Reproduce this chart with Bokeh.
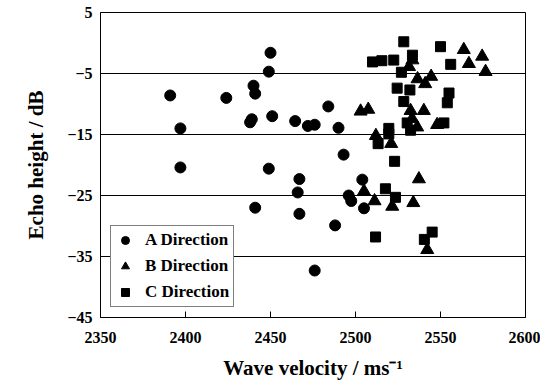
from bokeh.plotting import figure
from bokeh.models import FixedTicker, Legend, LegendItem, Range1d
from bokeh.embed import file_html
from bokeh.resources import INLINE

# Data
a_vel = [2391, 2397, 2397, 2424, 2440, 2441, 2438, 2439, 2441, 2449, 2450, 2484, 2451,
         2464.5, 2472, 2476, 2490, 2493, 2449, 2467, 2466, 2467, 2488, 2476, 2504,
         2496, 2497.5, 2505]
a_db = [-8.6, -14.0, -20.4, -9.0, -7.0, -8.3, -13.0, -12.5, -27.0, -4.7, -1.6, -10.4, -12.0,
        -12.8, -13.6, -13.4, -13.9, -18.3, -20.6, -22.3, -24.5, -28.0, -29.9, -37.3, -22.4,
        -25.0, -25.9, -27.1]

b_vel = [2503, 2507.5, 2512, 2521, 2533.5, 2531.5, 2536.5, 2544.5, 2541, 2563.7, 2574.5,
         2566.7, 2576.5, 2532.4, 2540.2, 2533.3, 2536.3, 2548, 2505, 2511.2, 2521.6, 2534,
         2537.3, 2542.2]
b_db = [-11.2, -10.9, -15.2, -16.5, -2.8, -3.9, -5.9, -5.5, -6.7, -1.1, -2.2,
        -3.4, -4.7, -11.1, -11.1, -12.4, -13.8, -13.4, -24.3, -25.9, -26.8, -26.2,
        -22.3, -33.9]

c_vel = [2528.4, 2550, 2510, 2515.5, 2522.5, 2533.5, 2527, 2556, 2524.5, 2532, 2555,
         2528.4, 2554, 2530.4, 2532.4, 2552, 2519.6, 2519.6, 2513.3, 2523, 2517.6,
         2523.5, 2511.8, 2545.1, 2540.5]
c_db = [0.2, -0.6, -3.1, -2.9, -2.8, -2.0, -4.8, -3.5, -7.4, -7.7, -8.2,
        -9.6, -9.8, -13.1, -14.3, -13.1, -14.0, -14.9, -16.5, -19.4, -23.9,
        -25.3, -31.8, -31.0, -32.2]

x_ticks = [2350, 2400, 2450, 2500, 2550, 2600]
y_ticks = [5, -5, -15, -25, -35, -45]
grid_lines = [-5, -15, -25, -35]

FONT = "Liberation Serif"

p = figure(width=540, height=389, output_backend="svg", toolbar_location=None,
           x_range=Range1d(2350, 2600), y_range=Range1d(-45, 5),
           min_border_left=100, min_border_right=15, min_border_top=12, min_border_bottom=72)

p.outline_line_color = "black"
p.outline_line_width = 1
p.xgrid.visible = False
p.ygrid.ticker = FixedTicker(ticks=grid_lines)
p.ygrid.grid_line_color = "black"
p.ygrid.grid_line_width = 1

p.xaxis.ticker = FixedTicker(ticks=x_ticks)
p.yaxis.ticker = FixedTicker(ticks=y_ticks)
for ax in (p.xaxis[0], p.yaxis[0]):
    ax.axis_line_color = "black"
    ax.axis_line_width = 1
    ax.major_label_text_font = FONT
    ax.major_label_text_font_style = "bold"
    ax.major_label_text_font_size = "16px"
    ax.major_label_text_color = "black"
    ax.axis_label_text_font = FONT
    ax.axis_label_text_font_style = "bold"
    ax.axis_label_text_color = "black"
    ax.minor_tick_line_color = None

p.xaxis.major_tick_in = 6
p.xaxis.major_tick_out = 0
p.xaxis.major_tick_line_color = "black"
p.xaxis.major_label_standoff = 14
p.xaxis.axis_label = "Wave velocity / ms\u207b\u00b9"
p.xaxis.axis_label_text_font_size = "21px"
p.xaxis.axis_label_standoff = 10

p.yaxis.major_tick_in = 0
p.yaxis.major_tick_out = 0
p.yaxis.major_label_standoff = 8
p.yaxis.axis_label = "Echo height / dB"
p.yaxis.axis_label_text_font_size = "21px"
p.yaxis.axis_label_standoff = 16

ra = p.scatter(a_vel, a_db, marker="circle", size=11, color="black")
rb = p.scatter(b_vel, b_db, marker="triangle", size=13, color="black")
rc = p.scatter(c_vel, c_db, marker="square", size=10, color="black")

legend = Legend(items=[
    LegendItem(label="A Direction", renderers=[ra]),
    LegendItem(label="B Direction", renderers=[rb]),
    LegendItem(label="C Direction", renderers=[rc]),
], location="bottom_left")
legend.margin = 10
legend.padding = 4
legend.spacing = 6
legend.glyph_width = 20
legend.glyph_height = 20
legend.label_height = 20
legend.label_standoff = 10
legend.label_text_font = FONT
legend.label_text_font_style = "bold"
legend.label_text_font_size = "17px"
legend.label_text_color = "black"
legend.border_line_color = "black"
legend.border_line_width = 1
legend.background_fill_color = "white"
legend.background_fill_alpha = 1
p.add_layout(legend)

open("out.html", "w").write(file_html(p, INLINE))
